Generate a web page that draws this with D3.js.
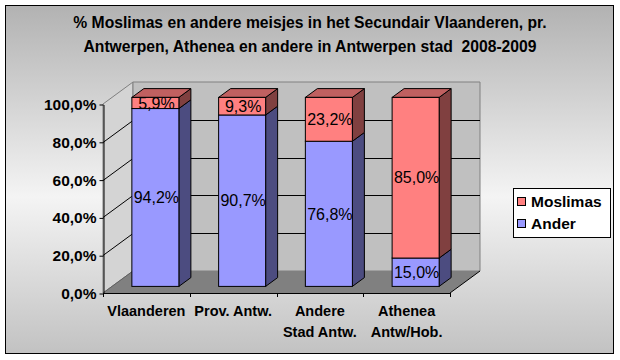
<!DOCTYPE html>
<html><head><meta charset="utf-8">
<script src="https://cdn.jsdelivr.net/npm/d3@7"></script>
<style>
html,body{margin:0;padding:0;background:#fff;}
text{font-family:Arial,"Liberation Sans",sans-serif;fill:#000;white-space:pre;}
</style></head>
<body>
<svg id="chart" width="620" height="360"></svg>
<script>
// ---- data ----
const titleLines = ["% Moslimas en andere meisjes in het Secundair Vlaanderen, pr.", "Antwerpen, Athenea en andere in Antwerpen stad  2008-2009"];
const categories = ["Vlaanderen", "Prov. Antw.", "Andere\nStad Antw.", "Athenea\nAntw/Hob."];
const seriesNames = ["Ander", "Moslimas"];
const ander = [94.2, 90.7, 76.8, 15.0];
const moslimas = [5.9, 9.3, 23.2, 85.0];
const yTicks = [0, 20, 40, 60, 80, 100];

// ---- styles / geometry ----
const colors = {Ander: {front:"#9999FF", side:"#4C4C80", top:"#7373C0"},
                Moslimas: {front:"#FF8080", side:"#804040", top:"#C06060"}};
const plot = {left:103, right:450, bottom:293, top:104};
const wall = {dx:30, dy:-22};
const barOff = {dx:9, dy:-6.6};
const barDepth = {dx:12, dy:-8.8};

const loc = d3.formatLocale({decimal:",", thousands:".", grouping:[3], currency:["€",""]});
const pct = v => loc.format(".1f")(v) + "%";

const svg = d3.select("#chart");
const defs = svg.append("defs");
const g1 = defs.append("linearGradient").attr("id","bg").attr("x1",0).attr("y1",0).attr("x2",0).attr("y2",1);
g1.append("stop").attr("offset","0%").attr("stop-color","#b2b2b2");
g1.append("stop").attr("offset","55%").attr("stop-color","#f4f4f4");
g1.append("stop").attr("offset","100%").attr("stop-color","#c2c2c2");

// frame
svg.append("rect").attr("x",5.5).attr("y",5.5).attr("width",608).attr("height",348)
  .attr("fill","url(#bg)").attr("stroke","#000").attr("stroke-width",1);

// scales
const x = d3.scaleBand().domain(d3.range(categories.length)).range([plot.left, plot.right]);
const xBar = d3.scaleBand().domain(d3.range(categories.length)).range([plot.left, plot.right])
  .paddingInner(0.458).paddingOuter(0.229);
const y = d3.scaleLinear().domain([0,100]).range([plot.bottom, plot.top]);

const pts = a => a.map(p => p.join(",")).join(" ");

// side wall
svg.append("polygon").attr("points", pts([[plot.left,y(100)],[plot.left+wall.dx,y(100)+wall.dy],
  [plot.left+wall.dx,y(0)+wall.dy],[plot.left,y(0)]]))
  .attr("fill","#d4d4d4").attr("stroke","#808080").attr("stroke-width",1);
// back wall
svg.append("polygon").attr("points", pts([[plot.left+wall.dx,y(100)+wall.dy],[plot.right+wall.dx,y(100)+wall.dy],
  [plot.right+wall.dx,y(0)+wall.dy],[plot.left+wall.dx,y(0)+wall.dy]]))
  .attr("fill","#c0c0c0").attr("stroke","#808080").attr("stroke-width",1);
// floor
svg.append("polygon").attr("points", pts([[plot.left,y(0)],[plot.right,y(0)],
  [plot.right+wall.dx,y(0)+wall.dy],[plot.left+wall.dx,y(0)+wall.dy]]))
  .attr("fill","#808080").attr("stroke","none");
svg.append("line").attr("x1",plot.right).attr("y1",y(0)).attr("x2",plot.right+wall.dx).attr("y2",y(0)+wall.dy)
  .attr("stroke","#000");
svg.append("line").attr("x1",plot.left).attr("y1",y(0)).attr("x2",plot.left+wall.dx).attr("y2",y(0)+wall.dy)
  .attr("stroke","#606060");

// gridlines
const grid = svg.append("g");
yTicks.filter(t => t > 0 && t < 100).forEach(t => {
  const yy = Math.round(y(t)) + 0.5;
  grid.append("polyline").attr("points", pts([[plot.left,yy],[plot.left+wall.dx,yy+wall.dy],[plot.right+wall.dx,yy+wall.dy]]))
    .attr("fill","none").attr("stroke","#000").attr("stroke-width",1);
});

// axes
const yAxis = d3.axisLeft(y).tickValues(yTicks).tickSize(4).tickSizeOuter(0).tickPadding(3).tickFormat(pct);
const ya = svg.append("g").attr("transform",`translate(${plot.left+0.5},0.5)`).call(yAxis);
ya.selectAll("text").attr("font-size","15.5px").attr("font-weight","bold").style("font-family","Arial, 'Liberation Sans', sans-serif");
ya.selectAll("line,path").attr("stroke","#000");

const xa = svg.append("g");
xa.append("line").attr("x1",plot.left).attr("x2",plot.right).attr("y1",plot.bottom+0.5).attr("y2",plot.bottom+0.5).attr("stroke","#000");
d3.range(categories.length+1).forEach(i => {
  const xx = Math.round(i < categories.length ? x(i) : plot.right) + 0.5;
  xa.append("line").attr("x1",xx).attr("x2",xx).attr("y1",plot.bottom).attr("y2",plot.bottom+4).attr("stroke","#000");
});
categories.forEach((c,i) => {
  const t = xa.append("text").attr("text-anchor","middle").attr("font-size","14.5px").attr("font-weight","bold");
  c.split("\n").forEach((line,k) => {
    t.append("tspan").attr("x", x(i)+x.bandwidth()/2).attr("y", 316 + k*20.5).text(line);
  });
});

// bars
const stackData = categories.map((c,i) => {
  const tot = ander[i] + moslimas[i];
  return {i, segs:[
    {name:"Ander", v:ander[i], y0:0, y1:ander[i]/tot*100},
    {name:"Moslimas", v:moslimas[i], y0:ander[i]/tot*100, y1:100}
  ]};
});
const bars = svg.append("g");
stackData.forEach(d => {
  const x0 = xBar(d.i) + barOff.dx, x1 = x0 + xBar.bandwidth();
  d.segs.forEach((s,k) => {
    const yb = y(s.y0) + barOff.dy, yt = y(s.y1) + barOff.dy;
    const col = colors[s.name];
    bars.append("polygon").attr("points", pts([[x1,yb],[x1+barDepth.dx,yb+barDepth.dy],[x1+barDepth.dx,yt+barDepth.dy],[x1,yt]]))
      .attr("fill",col.side).attr("stroke","#000").attr("stroke-linejoin","round");
    if (k === d.segs.length-1) {
      bars.append("polygon").attr("points", pts([[x0,yt],[x1,yt],[x1+barDepth.dx,yt+barDepth.dy],[x0+barDepth.dx,yt+barDepth.dy]]))
        .attr("fill",col.top).attr("stroke","#000").attr("stroke-linejoin","round");
    }
    bars.append("rect").attr("x",x0).attr("y",yt).attr("width",x1-x0).attr("height",yb-yt)
      .attr("fill",col.front).attr("stroke","#000");
  });
});
// labels
stackData.forEach(d => {
  const cx = xBar(d.i) + barOff.dx + xBar.bandwidth()/2;
  d.segs.forEach(s => {
    const cy = (y(s.y0) + y(s.y1))/2 + barOff.dy;
    bars.append("text").attr("x",cx+1).attr("y",cy).attr("dy","0.36em").attr("text-anchor","middle")
      .attr("font-size","16px").text(pct(s.v));
  });
});

// title
titleLines.forEach((t,k) => {
  svg.append("text").attr("x",310).attr("y",22 + k*24.5).attr("dy","0.36em").attr("text-anchor","middle")
    .attr("font-size","15.7px").attr("font-weight","bold").attr("xml:space","preserve").text(t);
});

// legend
const lg = svg.append("g");
lg.append("rect").attr("x",513.5).attr("y",188.5).attr("width",97).attr("height",49).attr("fill","#fff").attr("stroke","#000");
["Moslimas","Ander"].forEach((n,k) => {
  const cy = 201.5 + k*22;
  lg.append("rect").attr("x",517.5).attr("y",cy-4).attr("width",8).attr("height",8).attr("fill",colors[n].front).attr("stroke","#000");
  lg.append("text").attr("x",531).attr("y",cy).attr("dy","0.36em").attr("font-size","15.5px").attr("font-weight","bold").text(n);
});
</script>
</body></html>
